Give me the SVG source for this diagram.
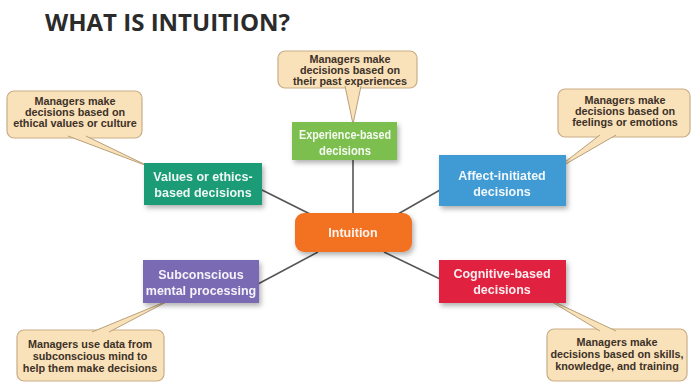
<svg xmlns="http://www.w3.org/2000/svg" width="692" height="384" viewBox="0 0 692 384">
<defs>
<filter id="sh" x="-20%" y="-20%" width="150%" height="160%">
<feDropShadow dx="2" dy="3" stdDeviation="2.5" flood-color="#000" flood-opacity="0.3"/>
</filter>
<style>
.title{font-family:"Open Sans","Liberation Sans",sans-serif;font-weight:bold;font-size:24px;fill:#2b2b2b}
.box text{font-family:"Liberation Sans",Arial,sans-serif;font-weight:bold;font-size:12.5px;fill:#fff;text-anchor:middle;opacity:0.92}
.call rect{fill:#f9e2b9;stroke:#c9ad86;stroke-width:1.2}
.call path{fill:#f9e2b9;stroke:#b9a07a;stroke-width:1}
.call text{font-family:"Liberation Sans",Arial,sans-serif;font-weight:bold;font-size:10.8px;fill:#3d3128;text-anchor:middle}
.conn line{stroke:#555;stroke-width:1.6}
</style>
</defs>
<rect width="692" height="384" fill="#fff"/>
<text class="title" x="45" y="31" textLength="245" lengthAdjust="spacing">WHAT IS INTUITION?</text>

<g id="connectors" class="conn">
<line x1="262" y1="190" x2="312" y2="215"/>
<line x1="353" y1="160" x2="353" y2="214"/>
<line x1="440" y1="190" x2="398" y2="214"/>
<line x1="258" y1="284" x2="318" y2="252"/>
<line x1="440" y1="279" x2="384" y2="252"/>
</g>

<g id="note-values" class="call">
<rect x="7" y="91" width="135" height="47" rx="7"/>
<path d="M68 136 L150 167 L86 136"/>
<text x="75" y="105">Managers make</text>
<text x="75" y="116">decisions based  on</text>
<text x="75" y="127">ethical values or culture</text>
</g>
<g id="note-experience" class="call">
<rect x="278" y="51" width="139" height="37" rx="7"/>
<path d="M345 86 L353 124 L361 86"/>
<text x="350" y="63">Managers make</text>
<text x="350" y="74">decisions based on</text>
<text x="350" y="85">their past experiences</text>
</g>
<g id="note-affect" class="call">
<rect x="558" y="89" width="132" height="48" rx="7"/>
<path d="M600 135 L552 172 L616 135"/>
<text x="625" y="104">Managers make</text>
<text x="625" y="115">decisions based on</text>
<text x="625" y="126">feelings or emotions</text>
</g>
<g id="note-subconscious" class="call">
<rect x="17" y="330" width="147" height="51" rx="7"/>
<path d="M92 332 L172 299 L109 332"/>
<text x="90" y="348">Managers use data from</text>
<text x="90" y="360">subconscious mind to</text>
<text x="90" y="372">help them make decisions</text>
</g>
<g id="note-cognitive" class="call">
<rect x="547" y="329" width="140" height="52" rx="7"/>
<path d="M600 331 L544 297 L616 331"/>
<text x="617" y="346">Managers make</text>
<text x="617" y="358">decisions based on skills,</text>
<text x="617" y="370">knowledge, and training</text>
</g>

<g id="values" class="box">
<rect x="144" y="163" width="118" height="42" fill="#1a9b77" filter="url(#sh)"/>
<text x="203" y="181">Values or ethics-</text>
<text x="203" y="197">based decisions</text>
</g>
<g id="experience" class="box">
<rect x="292" y="122" width="105" height="38" fill="#7cbf50" filter="url(#sh)"/>
<text x="345" y="139" textLength="92" lengthAdjust="spacingAndGlyphs">Experience-based</text>
<text x="345" y="155" textLength="52" lengthAdjust="spacingAndGlyphs">decisions</text>
</g>
<g id="affect" class="box">
<rect x="439" y="155" width="127" height="51" fill="#3f9ad4" filter="url(#sh)"/>
<text x="502" y="180">Affect-initiated</text>
<text x="502" y="196">decisions</text>
</g>
<g id="intuition" class="box">
<rect x="295" y="213" width="117" height="39" rx="9" fill="#f27224" filter="url(#sh)"/>
<text x="353" y="237">Intuition</text>
</g>
<g id="subconscious" class="box">
<rect x="143" y="260" width="116" height="43" fill="#7a6bb4" filter="url(#sh)"/>
<text x="201" y="279">Subconscious</text>
<text x="201" y="295">mental processing</text>
</g>
<g id="cognitive" class="box">
<rect x="439" y="260" width="127" height="43" fill="#e0213f" filter="url(#sh)"/>
<text x="502" y="278">Cognitive-based</text>
<text x="502" y="294">decisions</text>
</g>
</svg>
